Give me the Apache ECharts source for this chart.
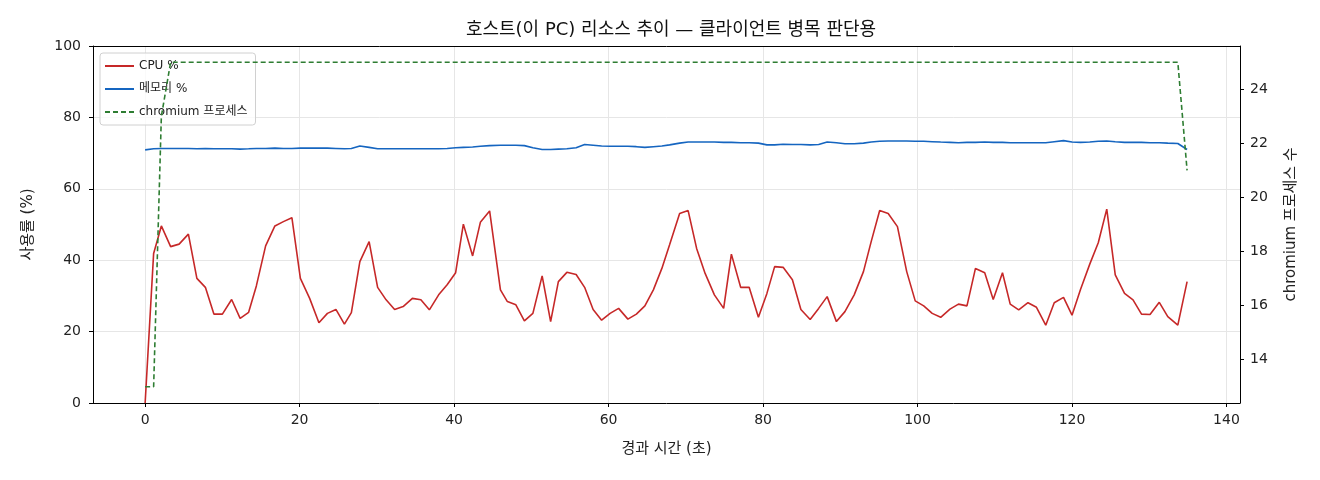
<!DOCTYPE html>
<html>
<head>
<meta charset="utf-8">
<script src="https://cdn.jsdelivr.net/npm/echarts@6/dist/echarts.min.js"></script>
<style>
  html, body { margin: 0; padding: 0; background: #fff; }
  #chart { width: 1320px; height: 480px; }
</style>
</head>
<body>
<div id="chart"></div>
<script>
// 경과 시간 (초)
const times = [
  0, 1.1, 2.1, 3.3, 4.4, 5.6, 6.7, 7.8, 8.9, 10.0,
  11.2, 12.3, 13.4, 14.4, 15.6, 16.8, 17.9, 19.0, 20.1, 21.3,
  22.5, 23.6, 24.7, 25.8, 26.7, 27.8, 29.0, 30.1, 31.2, 32.3,
  33.4, 34.6, 35.7, 36.8, 38.0, 39.1, 40.2, 41.2, 42.4, 43.4,
  44.6, 46.0, 46.9, 48.0, 49.1, 50.2, 51.4, 52.5, 53.5, 54.6,
  55.8, 56.9, 58.0, 59.1, 60.2, 61.3, 62.5, 63.6, 64.7, 65.8,
  66.9, 67.9, 69.2, 70.3, 71.4, 72.5, 73.7, 74.9, 75.9, 77.1,
  78.2, 79.4, 80.5, 81.5, 82.6, 83.8, 84.9, 86.1, 87.2, 88.3,
  89.5, 90.6, 91.8, 93.0, 94.0, 95.1, 96.2, 97.4, 98.6, 99.7,
  100.8, 101.9, 103.0, 104.2, 105.3, 106.4, 107.5, 108.7, 109.8, 111.0,
  112.0, 113.1, 114.3, 115.4, 116.6, 117.7, 118.9, 120.0, 121.1, 122.3,
  123.4, 124.5, 125.6, 126.8, 127.9, 129.0, 130.1, 131.3, 132.4, 133.7,
  134.9
]

// CPU %
const cpuValues = [
  0, 41.9, 49.6, 43.8, 44.5, 47.3, 34.9, 32.4, 24.9, 24.9,
  29.0, 23.7, 25.4, 32.8, 44.0, 49.6, 50.8, 51.9, 34.9, 29.3,
  22.5, 25.1, 26.2, 22.1, 25.3, 39.6, 45.2, 32.4, 28.9, 26.2,
  27.0, 29.3, 28.9, 26.1, 30.3, 33.1, 36.5, 50.1, 41.2, 50.6,
  53.8, 31.7, 28.4, 27.5, 23.0, 25.1, 35.6, 22.8, 34.0, 36.6,
  36.0, 32.4, 26.2, 23.2, 25.1, 26.5, 23.5, 24.9, 27.2, 31.7,
  37.7, 44.3, 53.1, 53.9, 43.3, 36.3, 30.3, 26.5, 41.7, 32.4,
  32.4, 24.0, 30.7, 38.2, 38.0, 34.5, 26.2, 23.4, 26.5, 29.8,
  22.8, 25.6, 30.3, 36.8, 45.2, 53.9, 53.1, 49.4, 36.8, 28.6,
  27.2, 25.1, 24.0, 26.3, 27.7, 27.2, 37.7, 36.5, 29.0, 36.5,
  27.7, 26.1, 28.1, 26.8, 21.8, 28.1, 29.6, 24.6, 31.8, 38.9,
  44.9, 54.3, 35.9, 30.7, 28.9, 24.9, 24.8, 28.2, 24.2, 21.8,
  34.0
]

// 메모리 %
const memValues = [
  70.9, 71.2, 71.3, 71.3, 71.3, 71.3, 71.2, 71.3, 71.2, 71.2,
  71.2, 71.1, 71.2, 71.3, 71.3, 71.4, 71.3, 71.3, 71.4, 71.4,
  71.4, 71.4, 71.3, 71.2, 71.3, 72.0, 71.6, 71.2, 71.2, 71.2,
  71.2, 71.2, 71.2, 71.2, 71.2, 71.3, 71.5, 71.6, 71.7, 71.9,
  72.1, 72.2, 72.2, 72.2, 72.1, 71.5, 71.0, 71.0, 71.1, 71.2,
  71.5, 72.4, 72.2, 72.0, 71.9, 71.9, 71.9, 71.8, 71.6, 71.8,
  72.0, 72.3, 72.8, 73.1, 73.1, 73.1, 73.1, 73.0, 73.0, 72.9,
  72.9, 72.8, 72.3, 72.3, 72.5, 72.4, 72.4, 72.3, 72.4, 73.1,
  72.9, 72.6, 72.6, 72.8, 73.1, 73.3, 73.4, 73.4, 73.4, 73.3,
  73.3, 73.2, 73.1, 73.0, 72.9, 73.0, 73.0, 73.1, 73.0, 73.0,
  72.9, 72.9, 72.9, 72.9, 72.9, 73.2, 73.5, 73.1, 73.0, 73.1,
  73.3, 73.4, 73.2, 73.0, 73.0, 73.0, 72.9, 72.9, 72.8, 72.7,
  71.0
]

// chromium 프로세스 수
const procCounts = [
  13, 13, 23, 25, 25, 25, 25, 25, 25, 25,
  25, 25, 25, 25, 25, 25, 25, 25, 25, 25,
  25, 25, 25, 25, 25, 25, 25, 25, 25, 25,
  25, 25, 25, 25, 25, 25, 25, 25, 25, 25,
  25, 25, 25, 25, 25, 25, 25, 25, 25, 25,
  25, 25, 25, 25, 25, 25, 25, 25, 25, 25,
  25, 25, 25, 25, 25, 25, 25, 25, 25, 25,
  25, 25, 25, 25, 25, 25, 25, 25, 25, 25,
  25, 25, 25, 25, 25, 25, 25, 25, 25, 25,
  25, 25, 25, 25, 25, 25, 25, 25, 25, 25,
  25, 25, 25, 25, 25, 25, 25, 25, 25, 25,
  25, 25, 25, 25, 25, 25, 25, 25, 25, 25,
  21
]

const xTicks = [0, 20, 40, 60, 80, 100, 120, 140]
const rightTicks = [14, 16, 18, 20, 22, 24]

// 숫자는 넓은 글꼴, 한글은 CJK 글꼴로 대체
const FONT = '"DejaVu Sans", "Noto Sans CJK KR", sans-serif'

const chart = echarts.init(document.getElementById('chart'), null, { renderer: 'canvas' })

const pairs = vals => vals.map((v, i) => [times[i], v])

const tickLabel = { fontFamily: FONT, fontSize: 14, color: '#222', margin: 12 }
const nameText = { fontFamily: FONT, fontSize: 15, color: '#222' }

chart.setOption({
  animation: false,
  textStyle: { fontFamily: FONT },
  title: {
    text: '호스트(이 PC) 리소스 추이 — 클라이언트 병목 판단용',
    left: 666,
    textAlign: 'center',
    top: 16,
    textStyle: { fontFamily: FONT, fontSize: 18, fontWeight: 'normal', color: '#111' }
  },
  legend: {
    orient: 'vertical',
    left: 100,
    top: 53,
    z: 1,
    itemWidth: 29,
    itemHeight: 10,
    itemGap: 11,
    padding: [7, 8, 7, 4],
    backgroundColor: 'rgba(255,255,255,0.8)',
    borderColor: '#d0d0d0',
    borderWidth: 1,
    borderRadius: 3,
    itemStyle: { opacity: 0 },
    textStyle: { fontFamily: FONT, fontSize: 12, color: '#222' },
    data: ['CPU %', '메모리 %', 'chromium 프로세스']
  },
  grid: { left: 93, right: 80, top: 46, bottom: 77 },
  xAxis: [
    {
      type: 'value',
      min: -6.75,
      max: 141.75,
      minInterval: 20,
      maxInterval: 20,
      name: '경과 시간 (초)',
      nameLocation: 'middle',
      nameGap: 39,
      nameTextStyle: nameText,
      axisLine: { onZero: false, lineStyle: { color: '#000', width: 1 } },
      axisTick: { show: true, length: 4, customValues: xTicks, lineStyle: { color: '#000' } },
      axisLabel: Object.assign({ customValues: xTicks }, tickLabel, { margin: 10 }),
      splitLine: { show: true, lineStyle: { color: '#e6e6e6', width: 1 } }
    },
    {
      type: 'value',
      position: 'top',
      min: -6.75,
      max: 141.75,
      axisLine: { onZero: false, lineStyle: { color: '#000', width: 1 } },
      axisTick: { show: false },
      axisLabel: { show: false },
      splitLine: { show: false }
    }
  ],
  yAxis: [
    {
      type: 'value',
      min: 0,
      max: 100,
      interval: 20,
      name: '사용률 (%)',
      nameLocation: 'middle',
      nameRotate: 90,
      nameGap: 57,
      nameTextStyle: nameText,
      axisLine: { show: true, onZero: false, lineStyle: { color: '#000', width: 1 } },
      axisTick: { show: true, length: 4, lineStyle: { color: '#000' } },
      axisLabel: tickLabel,
      splitLine: { show: true, lineStyle: { color: '#e6e6e6', width: 1 } }
    },
    {
      type: 'value',
      position: 'right',
      min: 12.4,
      max: 25.6,
      minInterval: 2,
      maxInterval: 2,
      name: 'chromium 프로세스 수',
      nameLocation: 'middle',
      nameRotate: 90,
      nameGap: 44,
      nameTextStyle: nameText,
      axisLine: { show: true, onZero: false, lineStyle: { color: '#000', width: 1 } },
      axisTick: { show: true, length: 4, customValues: rightTicks, lineStyle: { color: '#000' } },
      axisLabel: Object.assign({ customValues: rightTicks }, tickLabel, { margin: 10 }),
      splitLine: { show: false }
    }
  ],
  series: [
    {
      name: 'CPU %',
      type: 'line',
      xAxisIndex: 0,
      yAxisIndex: 0,
      data: pairs(cpuValues),
      symbol: 'none',
      color: '#c62828',
      lineStyle: { color: '#c62828', width: 1.6 }
    },
    {
      name: '메모리 %',
      type: 'line',
      xAxisIndex: 0,
      yAxisIndex: 0,
      data: pairs(memValues),
      symbol: 'none',
      color: '#1565c0',
      lineStyle: { color: '#1565c0', width: 1.6 }
    },
    {
      name: 'chromium 프로세스',
      type: 'line',
      xAxisIndex: 0,
      yAxisIndex: 1,
      z: 3,
      data: pairs(procCounts),
      symbol: 'none',
      color: '#2e7d32',
      lineStyle: { color: '#2e7d32', width: 1.6, type: [5, 3] }
    }
  ]
})
</script>
</body>
</html>
